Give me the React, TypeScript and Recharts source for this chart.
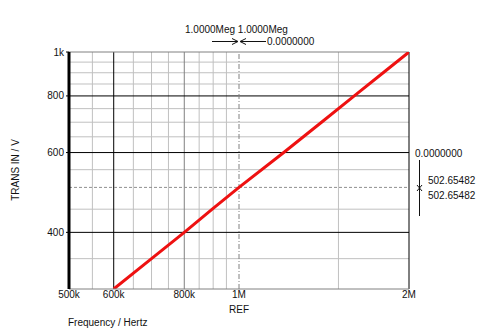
import { LineChart, Line, XAxis, YAxis, ReferenceLine } from "recharts";

// swept frequency (Hz) vs TRANS IN (V)
const freq = [600000, 700000, 800000, 900000, 1000000, 1200000, 1400000, 1600000, 1800000, 2000000];
const transIn = [300, 350, 400, 452, 502.65482, 600, 700, 800, 900, 1000];

const xTicks = [500000, 600000, 800000, 1000000, 2000000];
const xTickLabels = ["500k", "600k", "800k", "1M", "2M"];
const yTicks = [400, 600, 800, 1000];
const yTickLabels = ["400", "600", "800", "1k"];

// grid lines
const xMinor = [550000, 650000, 700000, 750000, 850000, 900000, 950000, 1500000];
const xMid = [800000];
const xMajor = [600000];
const yMinor = [350, 450, 550, 650, 700, 750, 850, 900, 950];
const yMajor = [400, 600, 800];

// cursor
const cursorX = 1000000;
const cursorY = 502.65482;

const data = freq.map((f, i) => ({ f, v: transIn[i] }));

const font = "'Liberation Sans', Arial, sans-serif";
const txt = { fontFamily: font, fontSize: 10, fill: "#111" };

export default function App() {
  return (
    <div style={{ position: "absolute", left: 0, top: 0, width: 496, height: 332, background: "#fff" }}>
      <LineChart width={496} height={332} data={data} margin={{ top: 52, right: 87, bottom: 23, left: 39 }}>
        <XAxis
          dataKey="f"
          type="number"
          scale="log"
          domain={[500000, 2000000]}
          ticks={xTicks}
          tickFormatter={(v) => xTickLabels[xTicks.indexOf(v)]}
          interval={0}
          allowDataOverflow
          height={20}
          axisLine={{ stroke: "#808080" }}
          tickLine={false}
          tickSize={0}
          tickMargin={2}
          tick={{ ...txt }}
        />
        <YAxis
          type="number"
          scale="log"
          domain={[300, 1000]}
          ticks={yTicks}
          tickFormatter={(v) => yTickLabels[yTicks.indexOf(v)]}
          interval={0}
          allowDataOverflow
          width={30}
          axisLine={{ stroke: "#000", strokeWidth: 3 }}
          tickLine={{ stroke: "#000" }}
          tickSize={3}
          tick={{ ...txt }}
        />
        {xMinor.map((x) => (
          <ReferenceLine key={"xm" + x} x={x} stroke="#c0c0c0" />
        ))}
        {yMinor.map((y) => (
          <ReferenceLine key={"ym" + y} y={y} stroke="#c0c0c0" />
        ))}
        {xMid.map((x) => (
          <ReferenceLine key={"xd" + x} x={x} stroke="#808080" />
        ))}
        {xMajor.map((x) => (
          <ReferenceLine key={"xM" + x} x={x} stroke="#000" />
        ))}
        {yMajor.map((y) => (
          <ReferenceLine key={"yM" + y} y={y} stroke="#000" />
        ))}
        <ReferenceLine y={1000} stroke="#808080" />
        <ReferenceLine x={2000000} stroke="#000" />
        <ReferenceLine y={cursorY} stroke="#909090" strokeDasharray="3 2" />
        <ReferenceLine x={cursorX} stroke="#808080" strokeDasharray="5 2 1 2" />
        <Line
          dataKey="v"
          type="linear"
          stroke="#ee1111"
          strokeWidth={3}
          dot={false}
          isAnimationActive={false}
        />
      </LineChart>
      <svg width={496} height={332} style={{ position: "absolute", left: 0, top: 0, pointerEvents: "none" }}>
        <g style={{ fontFamily: font, fontSize: 10 }} fill="#111">
          <text x={185} y={33}>1.0000Meg 1.0000Meg</text>
          <text x={267} y={45}>0.0000000</text>
          <text x={415} y={157}>0.0000000</text>
          <text x={428} y={184}>502.65482</text>
          <text x={428} y={199}>502.65482</text>
          <text x={239} y={313} textAnchor="middle">REF</text>
          <text x={68} y={326}>Frequency / Hertz</text>
          <text x={19} y={170} textAnchor="middle" transform="rotate(-90 19 170)">TRANS IN / V</text>
        </g>
        <g stroke="#111" strokeWidth={1} fill="none">
          <line x1={212} y1={41.5} x2={237} y2={41.5} />
          <path d="M232 38.5 L238 41.5 L232 44.5" />
          <path d="M246 38.5 L240 41.5 L246 44.5" />
          <line x1={241} y1={41.5} x2={266} y2={41.5} />
          <line x1={419.5} y1={160} x2={419.5} y2={216} />
          <path d="M417 185 L422 191 M422 185 L417 191" />
        </g>
      </svg>
    </div>
  );
}
